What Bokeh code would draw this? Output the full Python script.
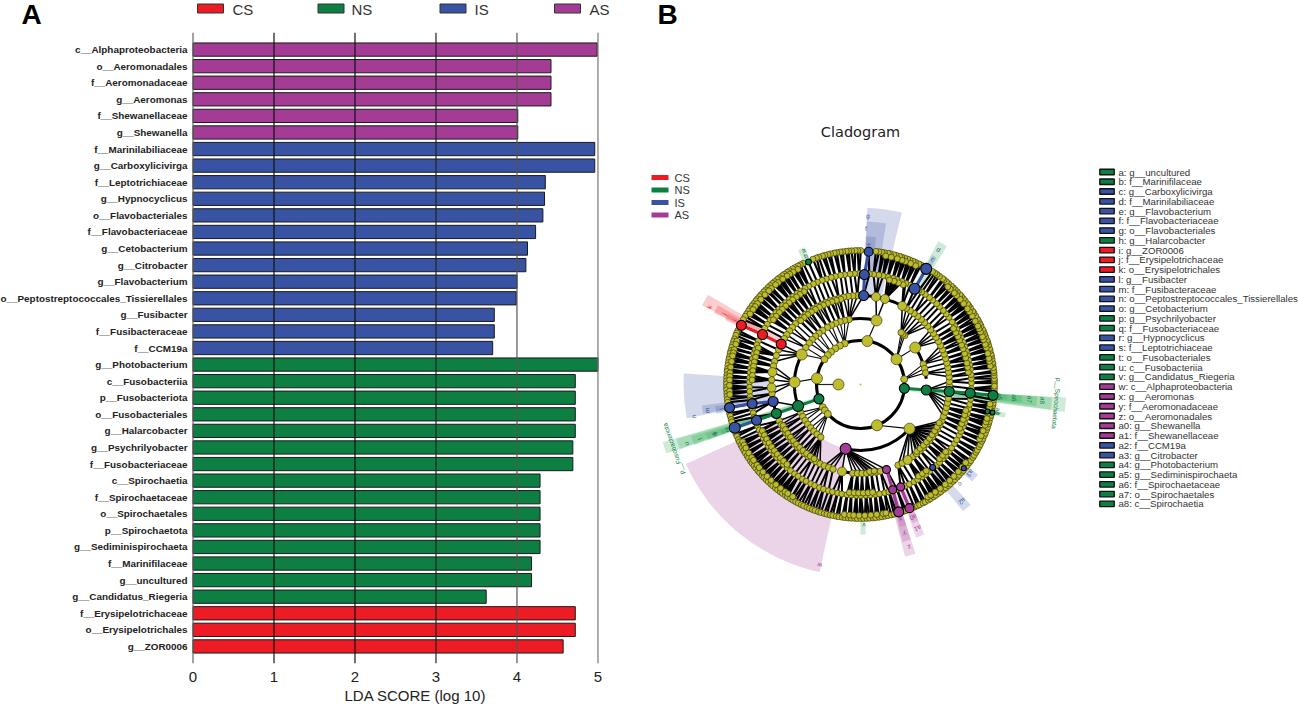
import numpy as np
from bokeh.embed import file_html
from bokeh.layouts import column, row
from bokeh.models import ColumnDataSource, FactorRange, FixedTicker, Range1d, Span, Title
from bokeh.plotting import figure
from bokeh.resources import INLINE

COL = {"CS": "#ED1C24", "NS": "#0E7F43", "IS": "#3953A4", "AS": "#A43C96"}
SHADE = {"CS": "#ED1C24", "NS": "#1FA34A", "IS": "#3953A4", "AS": "#A43C96"}
YEL = "#BDBD2D"

# ---------- panel A data ----------
AS_NAMES = ["c__Alphaproteobacteria", "o__Aeromonadales", "f__Aeromonadaceae", "g__Aeromonas", "f__Shewanellaceae", "g__Shewanella"]
AS_VALUES = [4.99, 4.42, 4.42, 4.42, 4.01, 4.01]
IS_NAMES = ["f__Marinilabiliaceae", "g__Carboxylicivirga", "f__Leptotrichiaceae", "g__Hypnocyclicus", "o__Flavobacteriales",
            "f__Flavobacteriaceae", "g__Cetobacterium", "g__Citrobacter", "g__Flavobacterium",
            "o__Peptostreptococcales_Tissierellales", "g__Fusibacter", "f__Fusibacteraceae", "f__CCM19a"]
IS_VALUES = [4.96, 4.96, 4.35, 4.34, 4.32, 4.23, 4.13, 4.11, 4.00, 3.99, 3.72, 3.72, 3.70]
NS_NAMES = ["g__Photobacterium", "c__Fusobacteriia", "p__Fusobacteriota", "o__Fusobacteriales", "g__Halarcobacter",
            "g__Psychrilyobacter", "f__Fusobacteriaceae", "c__Spirochaetia", "f__Spirochaetaceae", "o__Spirochaetales",
            "p__Spirochaetota", "g__Sediminispirochaeta", "f__Marinifilaceae", "g__uncultured", "g__Candidatus_Riegeria"]
NS_VALUES = [5.0, 4.72, 4.72, 4.72, 4.72, 4.69, 4.69, 4.285, 4.285, 4.285, 4.285, 4.285, 4.18, 4.18, 3.62]
CS_NAMES = ["f__Erysipelotrichaceae", "o__Erysipelotrichales", "g__ZOR0006"]
CS_VALUES = [4.72, 4.72, 4.57]
X_TICKS = [0, 1, 2, 3, 4, 5]
X_LINE_COLORS = ["#666666", "#111111", "#111111", "#222222", "#555555", "#777777"]

# ---------- panel B data: angles in degrees on each ring of the cladogram ----------
RING_22 = [180]
RING_44_BIG = [172, 81, 35, -68]
RING_44 = [7, 111, 118, 125, 132, 138, 145, 211, 216, 222]
RING_66_BIG = [76, 153, 178, -42, 34]
RING_66 = [100, 104, 108, 112, 116, 120, 125, 129, 133, 137, 141, 146, 48, 50, 52, 18, 14, 10, 205, 209, 213, 217, 221, 225, 229, 233]
RING_89_BIG = [258, -58, 62, 172, 182, 74, 80]
RING_89 = [92, 95, 98, 101, 104, 107, 110, 113, 116, 119, 122, 125, 128, 131, 134, 137, 140, 143, 146, 149, 157, 161, 165, 168, 177, 186,
           204, 207, 210, 213, 216, 219, 222, 225, 228, 231, 234, 237, 240, 243, 246, 249, 252, 265, 268, 271, 274, 277, 280, 283,
           -65, -62, -54, -51, -48, -45, -42, -39, -36, -33, -30, -27, -24, -21, -18, -15, -12, -9, -1, 2, 5, 8, 11, 14, 17, 20, 23,
           26, 29, 32, 35, 38, 41, 44, 47, 50, 53, 56, 59]
RING_89B = [103, 106, 109, 112, 115, 118, 121, 124, 127, 130, 133, 208, 211, 214, 217, 220, 223, 226, 229, 232, 235, 238,
            -50, -47, -44, -41, -38, -35, -32, -29, -26, 276, 279]
RING_110 = [0.8, 3.2, 5.1, 7.9, 10.2, 12.6, 15.3, 17.4, 20.1, 22.3, 25.0, 27.2, 29.8, 32.1, 34.3, 37.2, 39.5, 41.8, 44.6, 46.7, 49.4, 51.6,
            54.3, 56.5, 58.2, 63.4, 65.9, 68.1, 70.8, 73.0, 75.7, 78.3, 80.5, 83.2, 85.4, 90.7, 93.1, 95.4, 98.2, 100.4, 103.1, 105.3,
            108.0, 110.2, 112.9, 115.1, 117.8, 120.0, 122.7, 124.9, 127.6, 129.8, 132.5, 134.7, 137.4, 139.6, 142.3, 144.5, 147.2, 149.6,
            156.8, 159.1, 161.8, 164.0, 166.7, 168.9, 171.6, 173.8, 176.5, 178.7, 181.4, 183.6, 186.3, 188.1, 192.8, 194.9, 197.1, 201.9,
            204.2, 206.4, 209.1, 211.3, 214.0, 216.2, 218.9, 221.1, 223.8, 226.0, 228.7, 230.9, 233.6, 235.8, 238.5, 240.7, 243.4, 245.6,
            248.3, 250.5, 253.2, 255.4, 258.1, 260.3, 263.0, 265.2, 267.9, 270.1, 272.8, 275.0, 277.7, 279.9, 282.6, 284.8, 289.2, 293.8,
            296.1, 298.8, 301.0, 303.7, 305.9, 308.6, 313.2, 315.4, 318.1, 320.3, 323.0, 325.2, 327.9, 330.1, 332.8, 335.0, 337.7, 339.9,
            342.6, 344.8, 347.5, 349.7, 352.4, 354.3, 357.9]
RING_110B = [6.5, 9.1, 11.4, 14.2, 16.5, 19.2, 21.3, 24.1, 26.2, 28.5, 31.0, 66.9, 69.5, 72.0, 74.5, 121.3, 123.9, 126.2, 128.7, 131.2, 133.6,
             136.1, 138.5, 141.0, 143.4, 160.4, 163.0, 165.4, 168.0, 170.3, 172.7, 175.2, 177.6, 205.3, 207.8, 210.2, 212.6, 215.1, 217.6,
             220.0, 222.5, 224.9, 227.4, 264.1, 266.6, 269.0, 271.5, 274.0, 276.4, 302.4, 304.8, 307.3, 316.8, 319.2, 321.7, 336.3, 338.8,
             341.2, 343.7, 346.1]
RING_133 = [0.6, 1.7, 2.5, 3.9, 5.1, 5.9, 7.2, 8.7, 9.4, 10.9, 12.2, 13.1, 14.6, 15.5, 17.1, 18.4, 19.2, 20.8, 22.1, 23.3, 24.2, 25.9, 27.1,
            28.4, 29.2, 30.7, 32.2, 33.1, 34.8, 36.1, 37.0, 38.6, 39.8, 41.1, 42.0, 43.7, 45.0, 46.2, 47.3, 48.9, 50.1, 51.4, 52.2, 53.9,
            55.2, 56.3, 57.5, 63.1, 64.2, 65.8, 66.9, 68.3, 69.4, 70.8, 72.1, 73.0, 74.6, 75.7, 77.2, 78.1, 79.7, 80.8, 82.1, 83.4, 89.9,
            91.2, 92.3, 93.8, 95.0, 96.1, 97.6, 98.7, 100.2, 101.3, 102.9, 104.0, 105.4, 106.5, 108.1, 109.2, 110.8, 115.3, 116.7, 117.8,
            119.3, 120.4, 122.0, 123.1, 124.6, 125.7, 127.2, 128.3, 129.9, 131.0, 132.4, 133.6, 135.1, 136.2, 137.8, 138.9, 140.3, 141.4,
            142.9, 144.1, 145.6, 146.7, 148.2, 149.4, 151.0, 156.2, 157.4, 158.5, 160.1, 161.2, 162.7, 163.9, 165.4, 166.5, 168.0, 169.2,
            170.6, 171.8, 173.3, 174.4, 175.9, 177.1, 178.5, 179.7, 181.2, 182.3, 183.8, 185.0, 186.4, 187.6, 192.4, 193.6, 195.1, 196.2,
            201.6, 202.8, 204.3, 205.4, 206.9, 208.1, 209.5, 210.7, 212.2, 213.3, 214.8, 216.0, 217.4, 218.6, 220.1, 221.2, 222.7, 223.9,
            225.3, 226.5, 228.0, 229.1, 230.6, 231.8, 233.2, 234.4, 235.9, 237.0, 238.5, 239.7, 241.1, 242.3, 243.8, 244.9, 246.4, 247.6,
            249.0, 250.2, 251.7, 252.8, 254.3, 255.5, 256.9, 258.1, 259.6, 260.7, 262.2, 263.4, 264.8, 266.0, 267.5, 268.6, 270.1, 271.3,
            272.7, 273.9, 275.4, 276.5, 278.0, 279.2, 280.6, 281.8, 283.3, 284.5, 285.8, 288.9, 289.8, 293.7, 295.1, 296.2, 297.8, 298.9,
            300.4, 301.5, 303.1, 304.2, 305.7, 306.8, 308.4, 309.5, 311.0, 312.1, 313.7, 314.8, 316.3, 317.4, 319.0, 320.1, 321.7, 322.8,
            324.3, 325.4, 327.0, 328.1, 329.6, 330.7, 332.3, 333.4, 334.9, 336.0, 337.6, 338.7, 340.2, 341.4, 342.9, 344.0, 345.6, 346.7,
            348.2, 349.3, 350.9, 352.0, 353.5, 356.9, 358.2, 359.3]
RING_133B = [8.1, 10.2, 11.5, 13.7, 16.3, 17.8, 20.0, 21.4, 23.7, 25.2, 26.5, 28.9, 31.5, 33.7, 35.3, 38.1, 40.5, 42.8, 44.3, 46.8, 48.2,
             65.1, 67.5, 69.9, 71.5, 73.7, 76.4, 78.9, 118.5, 120.9, 122.7, 124.1, 126.4, 128.9, 130.4, 132.9, 134.4, 136.8, 139.5, 141.9,
             143.5, 145.1, 147.4, 160.7, 162.1, 164.6, 166.0, 167.4, 169.9, 172.4, 174.9, 176.4, 178.0, 180.4, 182.9, 184.4, 205.9, 207.5,
             209.0, 211.5, 213.9, 215.3, 217.9, 219.4, 221.9, 224.5, 227.0, 229.8, 232.4, 234.9, 236.3, 238.9, 262.9, 265.3, 267.0, 269.4,
             271.9, 274.5, 277.1, 279.9, 281.2, 300.9, 302.4, 304.8, 307.5, 310.3, 312.9, 315.5, 318.3, 320.9, 323.4, 335.4, 337.0, 339.3,
             341.9, 343.4, 345.0, 347.4, 349.8, 351.4]

# highlighted nodes: ring, angle, group, diameter
HL_RING = [44, 44, 66, 66, 66, 89, 89, 89, 89, 89, 89, 110, 110, 110, 110, 110, 110, 110, 110, 133, 133, 133, 133, 133, 133, 133, 133, 133, 110, 130, 133, 135]
HL_ANGLE = [-5, 199, -4.8, 199, 257, -4.5, 199, 88, 153, 191, -73, -4.5, 199, 88, 60.5, 153, 190, -73, -68.6, -4.7, 199, 86.5, 60.4, 153.6, 190, -73.3, -68.4, -39, -49, -12, 113, -12]
HL_GROUP = ["NS", "NS", "NS", "NS", "AS", "NS", "NS", "IS", "CS", "IS", "AS", "NS", "IS", "IS", "IS", "CS", "IS", "AS", "AS", "NS", "IS", "IS", "IS", "CS", "IS", "AS", "AS", "IS", "IS", "NS", "NS", "NS"]
HL_SIZE = [10, 10, 10, 11, 11, 10, 10, 10, 10, 10, 8, 10, 10, 10, 11, 10, 10, 8, 8, 10, 11, 9, 11, 10, 10, 10, 9, 5, 6, 5, 6, 5]

# coloured links: group, angles and rings along the chain
CH_GROUP = ["NS", "NS", "IS", "IS", "CS", "IS", "AS", "AS"]
CH_RINGS = [[44, 66, 89, 110, 133], [44, 66, 89, 110], [89, 110, 133], [110, 133], [89, 110, 133], [89, 110, 133], [89, 110, 133], [110, 133]]
CH_ANGLES = [[-5, -4.8, -4.5, -4.5, -4.7], [199, 199, 199, 199], [88, 88, 86.5], [60.5, 60.4], [153, 153, 153.6], [191, 190, 190], [-73, -73, -73.3], [-68.6, -68.4]]
CH_2_RINGS = [110, 133]
CH_2_ANGLES = [199, 199]

# thick arcs: radius, start, end
ARC_R = [44, 66, 66, 66, 66, 89, 89, 89]
ARC_START = [0, 76, 257, 153, 5, 258, 182, 60]
ARC_END = [360, 100, 318, 199, 34, 287, 199, 88]

# shaded clades: inner, outer, start, end, group
W_IN = [66, 89, 110, 133, 89, 110, 133, 89, 110, 133, 44, 66, 89, 110, 133, 44, 66, 89, 110, 133, 89, 110, 133, 110, 133, 110, 133, 110, 133, 133, 133, 133]
W_OUT = [192, 177, 163, 148, 177, 160, 147, 177, 163, 150, 206, 192, 177, 162, 147, 206, 192, 177, 162, 147, 178, 163, 148, 163, 148, 163, 148, 163, 148, 150, 148, 148]
W_A = [204.5, 76.5, 81, 84, 176.4, 187.5, 188.5, 149.5, 151, 152, 196.3, 196.5, 197, 197.5, 198, -7.7, -7.5, -7, -6.5, -6, -75.5, -75, -74.5, -70, -69.5, -51, -41, 58, 59, -90, 112, -13]
W_B = [257.7, 87.8, 87.8, 88, 191, 190.5, 191.5, 153.5, 154, 154.5, 199.6, 199.8, 200, 200, 200, -3.7, -3.8, -3.9, -4, -4.1, -72, -72, -72, -67, -67, -47.5, -37.5, 61.5, 61, -88, 115, -11]
W_GROUP = ["AS", "IS", "IS", "IS", "IS", "IS", "IS", "CS", "CS", "CS", "NS", "NS", "NS", "NS", "NS", "NS", "NS", "NS", "NS", "NS", "AS", "AS", "AS", "AS", "AS", "IS", "IS", "NS", "IS", "NS", "NS", "NS"]

# small clade labels round the tree
L_TEXT = ["g", "f", "e", "d", "c", "a", "b", "h", "i", "j", "k", "l", "m", "n", "o", "p", "q", "r", "s", "t", "u", "v", "w", "x", "y", "z",
          "a0", "a1", "a2", "a3", "a4", "a5", "a6", "a7", "a8", "p__Spirochaetota", "p__Fusobacteriota"]
L_R = [169, 156, 141, 156, 145, 146, 140, 141, 141, 154, 170, 141, 155.5, 170, 141, 141, 155, 141, 155, 170, 184, 141, 185.5, 141, 156, 170,
       143, 155, 155, 141, 140, 140, 154.5, 170, 183, 197, 198]
L_A = [87.5, 88, 86.6, 60, 60, 113, 113, -12, 153, 152.6, 152.8, 190, 189.6, 190.9, -45, 199, 199, 198, 198.5, 198.7, 198.8, -88.6, 257.3, -73.5, -73.5, -73.3,
       -68.3, -68.3, -49, -39, -11, -5, -5, -5, -5, -5.5, 199]
L_GROUP = ["IS", "IS", "IS", "IS", "IS", "NS", "NS", "NS", "CS", "CS", "CS", "IS", "IS", "IS", "IS", "NS", "NS", "IS", "IS", "NS", "NS", "NS", "AS", "AS", "AS", "AS",
           "AS", "AS", "IS", "IS", "NS", "NS", "NS", "NS", "NS", "NS", "NS"]

LEG_NAMES = ["a: g__uncultured", "b: f__Marinifilaceae", "c: g__Carboxylicivirga", "d: f__Marinilabiliaceae", "e: g__Flavobacterium",
             "f: f__Flavobacteriaceae", "g: o__Flavobacteriales", "h: g__Halarcobacter", "i: g__ZOR0006", "j: f__Erysipelotrichaceae",
             "k: o__Erysipelotrichales", "l: g__Fusibacter", "m: f__Fusibacteraceae", "n: o__Peptostreptococcales_Tissierellales",
             "o: g__Cetobacterium", "p: g__Psychrilyobacter", "q: f__Fusobacteriaceae", "r: g__Hypnocyclicus", "s: f__Leptotrichiaceae",
             "t: o__Fusobacteriales", "u: c__Fusobacteriia", "v: g__Candidatus_Riegeria", "w: c__Alphaproteobacteria", "x: g__Aeromonas",
             "y: f__Aeromonadaceae", "z: o__Aeromonadales", "a0: g__Shewanella", "a1: f__Shewanellaceae", "a2: f__CCM19a", "a3: g__Citrobacter",
             "a4: g__Photobacterium", "a5: g__Sediminispirochaeta", "a6: f__Spirochaetaceae", "a7: o__Spirochaetales", "a8: c__Spirochaetia"]
LEG_GROUP = ["NS", "NS", "IS", "IS", "IS", "IS", "IS", "NS", "CS", "CS", "CS", "IS", "IS", "IS", "IS", "NS", "NS", "IS", "IS", "NS", "NS", "NS", "AS", "AS",
             "AS", "AS", "AS", "AS", "IS", "IS", "NS", "NS", "NS", "NS", "NS"]
GROUPS = ["CS", "NS", "IS", "AS"]

# ---------- header strip: panel letters and the legend of panel A ----------
p0 = figure(width=1299, height=32, output_backend="svg", toolbar_location=None,
            x_range=Range1d(0, 1299), y_range=Range1d(32, 0), min_border=0)
p0.axis.visible = False
p0.grid.visible = False
p0.outline_line_color = None
p0.text([21, 657], [14, 14], text=["A", "B"], text_font_size="28px", text_font_style="bold", text_baseline="middle",
        text_color="#000000", text_font={"value": "Liberation Sans"})
p0.rect([210, 330.5, 452.5, 567], [8] * 4, width=26, height=9, fill_color=[COL[g] for g in GROUPS], line_color="#333333", line_width=1)
p0.text([232, 351, 474, 589], [9] * 4, text=GROUPS, text_font_size="15px", text_baseline="middle", text_color="#333333",
        text_font={"value": "Liberation Sans"})

# ---------- panel A ----------
order = AS_NAMES + IS_NAMES + NS_NAMES + CS_NAMES
p1 = figure(width=643, height=673, output_backend="svg", toolbar_location=None, margin=(0, 0, 0, -3),
            x_range=Range1d(-0.0432, 5.056), y_range=FactorRange(factors=order[::-1], range_padding=0.53, range_padding_units="absolute"),
            min_border_left=190, min_border_right=38, min_border_top=0, min_border_bottom=42)
for g, names, vals in [("CS", CS_NAMES, CS_VALUES), ("NS", NS_NAMES, NS_VALUES), ("IS", IS_NAMES, IS_VALUES), ("AS", AS_NAMES, AS_VALUES)]:
    p1.hbar(y=names, right=vals, left=0, height=0.8, fill_color=COL[g], line_color="#1a1a1a", line_width=1)
for v, c in zip(X_TICKS, X_LINE_COLORS):
    p1.add_layout(Span(location=v, dimension="height", line_color=c, line_width=1.2))
p1.grid.visible = False
p1.outline_line_color = None
p1.xaxis.ticker = FixedTicker(ticks=X_TICKS)
p1.axis.axis_line_color = None
p1.axis.major_tick_line_color = None
p1.axis.minor_tick_line_color = None
p1.axis.major_tick_out = 0
p1.axis.major_tick_in = 0
p1.xaxis.major_label_text_font = "Liberation Sans"
p1.xaxis.major_label_text_font_size = "15px"
p1.xaxis.major_label_text_color = "#222222"
p1.xaxis.major_label_standoff = 8
p1.yaxis.major_label_text_font = "Liberation Sans"
p1.yaxis.major_label_text_font_style = "bold"
p1.yaxis.major_label_text_font_size = "9.9px"
p1.yaxis.major_label_text_color = "#222222"
p1.yaxis.major_label_standoff = 2
p1.add_layout(Title(text="LDA SCORE (log 10)", align="left", offset=155, standoff=0, text_font="Liberation Sans", text_font_size="15px",
                    text_font_style="normal", text_color="#222222"), "below")

# ---------- panel B ----------
p2 = figure(width=659, height=673, output_backend="svg", toolbar_location=None,
            x_range=Range1d(-220, 439), y_range=Range1d(-279, 352),
            min_border_left=0, min_border_right=0, min_border_top=0, min_border_bottom=42)
p2.axis.visible = False
p2.grid.visible = False
p2.outline_line_color = None


def pol(r, a):
    r, a = np.asarray(r, float), np.radians(np.asarray(a, float))
    return r * np.cos(a), r * np.sin(a)


def links(ch_a, ch_r, pa_a, pa_r, limit=32):
    ch_a, pa_a = np.asarray(ch_a, float), np.asarray(pa_a, float)
    xs0, ys0, xs1, ys1 = [], [], [], []
    for a in ch_a:
        d = np.abs((pa_a - a + 180) % 360 - 180)
        j = int(np.argmin(d))
        if d[j] > limit:
            continue
        x0, y0 = pol(ch_r, a)
        x1, y1 = pol(pa_r, pa_a[j])
        xs0.append(x0); ys0.append(y0); xs1.append(x1); ys1.append(y1)
    return dict(x0=xs0, y0=ys0, x1=xs1, y1=ys1)


# shaded clades
p2.annular_wedge(x=0, y=0, inner_radius=W_IN, outer_radius=W_OUT, start_angle=W_A, end_angle=W_B, start_angle_units="deg", end_angle_units="deg",
                 fill_color=[SHADE[g] for g in W_GROUP], fill_alpha=0.22, line_color=None)

ring44_all = RING_44 + RING_44_BIG + [-5, 199]
ring66_all = RING_66 + RING_66_BIG + [-4.8, 199, 257]
ring89_all = RING_89 + RING_89_BIG + [-4.5, 199, 88, 153, 191, -73]
ring89_child = ring89_all + RING_89B
ring110_all = RING_110 + [-4.5, 199, 88, 60.5, 153, 190, -73, -68.6, -49]
ring110_child = ring110_all + RING_110B
ring133_all = RING_133 + RING_133B + [-4.7, 199, 86.5, 60.4, 153.6, 190, -73.3, -68.4, -39, 113, -12]
for ca, cr, pa, pr, w in [(ring133_all, 133, ring110_all, 110, 2.2), (ring110_child, 110, ring89_all, 89, 2.0),
                          (ring89_child, 89, ring66_all, 66, 1.5), (ring66_all, 66, ring44_all, 44, 1.1)]:
    p2.segment("x0", "y0", "x1", "y1", source=ColumnDataSource(links(ca, cr, pa, pr)), line_color="#000000", line_width=w)
x0, y0 = pol([22], RING_22)
x1, y1 = pol([44], RING_22)
p2.segment(x0, y0, x1, y1, line_color="#222222", line_width=1.2)
p2.arc(x=0, y=0, radius=ARC_R, start_angle=ARC_START, end_angle=ARC_END, start_angle_units="deg", end_angle_units="deg",
       line_color="#000000", line_width=3)

for g, rr, aa in zip(CH_GROUP, CH_RINGS, CH_ANGLES):
    xs, ys = pol(rr, aa)
    p2.line(xs, ys, line_color=COL[g], line_width=3)
xs, ys = pol(CH_2_RINGS, CH_2_ANGLES)
p2.line(xs, ys, line_color=COL["IS"], line_width=3)

for ang, rad, size in [(RING_133, 134, 6), (RING_133B, 131, 6), (RING_110, 111, 6), (RING_110B, 108.5, 6), (RING_89, 89, 6.5), (RING_89B, 87.5, 6),
                       (RING_89_BIG, 89, 9), (RING_66, 66, 6.5), (RING_66_BIG, 66, 11), (RING_44, 44, 7), (RING_44_BIG, 44, 11), (RING_22, 22, 11)]:
    xs, ys = pol(np.full(len(ang), rad), ang)
    p2.scatter(xs, ys, size=size, fill_color=YEL, line_color="#3a3a10", line_width=0.7)
p2.scatter([0], [0], size=2, fill_color=YEL, line_color=None)
xs, ys = pol(HL_RING, HL_ANGLE)
p2.scatter(xs, ys, size=HL_SIZE, fill_color=[COL[g] for g in HL_GROUP], line_color="#000000", line_width=1.1)

xs, ys = pol(L_R, L_A)
p2.text(xs, ys, text=L_TEXT, angle=[a - 90 for a in L_A], angle_units="deg", text_font_size="6.5px", text_align="center", text_baseline="middle",
        text_color=[COL[g] for g in L_GROUP], text_font={"value": "Liberation Sans"})

# title and legends
p2.text([0], [253], text=["Cladogram"], text_font_size="14.5px", text_align="center", text_baseline="middle", text_color="#222222",
        text_font={"value": "DejaVu Sans"})
leg_y = [384 - 177, 384 - 189.5, 384 - 202, 384 - 214.5]
p2.rect([-200.5] * 4, leg_y, width=17, height=5, fill_color=[COL[g] for g in GROUPS], line_color=None)
p2.text([-186] * 4, leg_y, text=GROUPS, text_font_size="11px", text_baseline="middle", text_color="#333333", text_font={"value": "Liberation Sans"})
n_y = [384 - (171.5 + 9.76 * i) for i in range(len(LEG_NAMES))]
p2.rect([246.5] * len(n_y), n_y, width=14.5, height=5.5, fill_color=[COL[g] for g in LEG_GROUP], line_color="#111111", line_width=1.3)
p2.text([258] * len(n_y), n_y, text=LEG_NAMES, text_font_size="9.65px", text_baseline="middle", text_color="#333333", text_font={"value": "Liberation Sans"})

layout = column(p0, row(p1, p2, spacing=0), spacing=0, margin=0)
open("out.html", "w").write(file_html(layout, INLINE))
